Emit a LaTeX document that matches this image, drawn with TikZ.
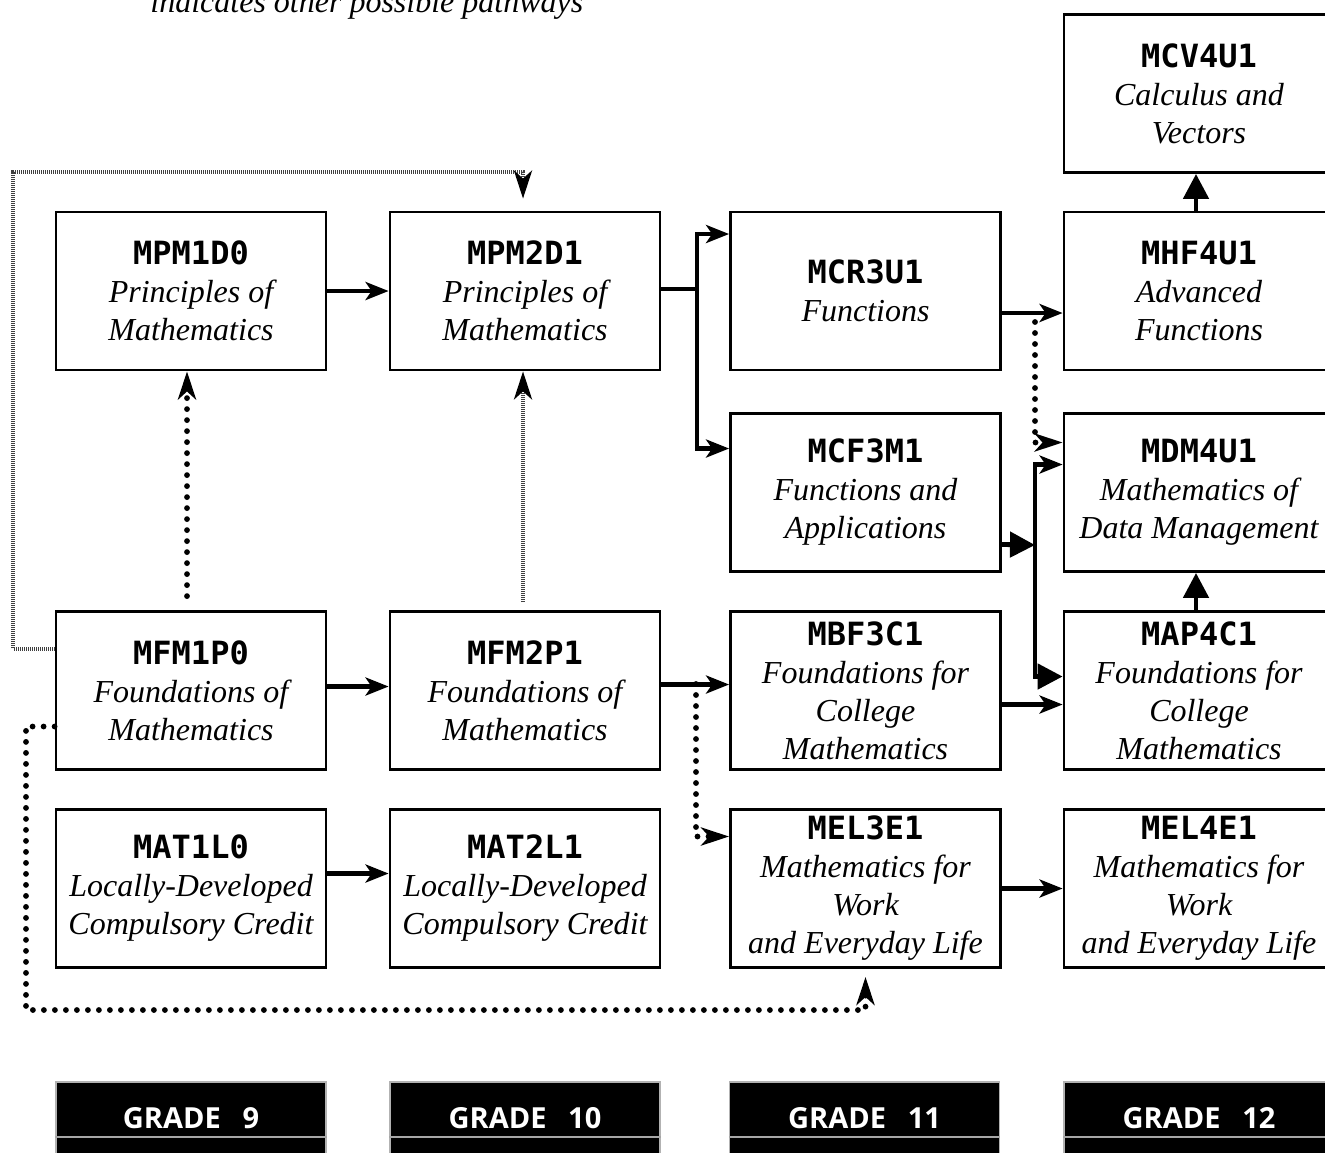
\documentclass[tikz,border=0pt]{standalone}
\usepackage{fontspec}
\setmainfont{Liberation Serif}
\newfontfamily\codefont{DejaVu Sans Mono}
\newfontfamily\gradefont{Open Sans}
\usetikzlibrary{arrows.meta}

\newcommand{\ccode}[1]{{\codefont\upshape\bfseries #1}}

\begin{document}
\begin{tikzpicture}[x=0.5pt, y=-0.5pt,
    course/.style={draw=black, rectangle, line width=1.4pt, minimum width=135pt, minimum height=79pt, inner sep=0pt, align=center, font=\fontsize{16}{19}\selectfont\itshape},
    gradebox/.style={draw=gray!60, fill=black, rectangle, line width=0.6pt, minimum width=135pt, minimum height=36pt, inner sep=0pt, text=white, font=\gradefont\bfseries\fontsize{14.5}{16}\selectfont},
    solidarrow/.style={line width=2.4pt, -{Stealth[length=11.5pt, width=9pt, inset=3pt]}},
    solidline/.style={line width=2.4pt},
    fillarrow/.style={line width=2.4pt, -{Triangle[length=12.5pt, width=12.5pt]}},
    bigdots/.style={line width=2.9pt, line cap=round, dash pattern=on 0pt off 5.5pt, -{Stealth[length=14pt, width=9pt, inset=4pt]}},
    finedots/.style={line width=2pt, draw=black!75, dash pattern=on 0.5pt off 0.5pt, -{Stealth[length=14pt, width=9pt, inset=4pt, color=black, fill=black]}}]
    \useasboundingbox (0,0) rectangle (1325,1152);

    %   Legend line, cut off at the top
    \node[anchor=base west, inner sep=0pt, font=\fontsize{16}{19}\selectfont\itshape] (legend) at (150,12) {indicates other possible pathways};

    %   Grade 9 column
    \node[course] (mpm1d0) at (191,291) {\ccode{MPM1D0}\\Principles of\\Mathematics};
    \node[course] (mfm1p0) at (191,690.5) {\ccode{MFM1P0}\\Foundations of\\Mathematics};
    \node[course] (mat1l0) at (191,888.5) {\ccode{MAT1L0}\\Locally-Developed\\Compulsory Credit};

    %   Grade 10 column
    \node[course] (mpm2d1) at (525,291) {\ccode{MPM2D1}\\Principles of\\Mathematics};
    \node[course] (mfm2p1) at (525,690.5) {\ccode{MFM2P1}\\Foundations of\\Mathematics};
    \node[course] (mat2l1) at (525,888.5) {\ccode{MAT2L1}\\Locally-Developed\\Compulsory Credit};

    %   Grade 11 column
    \node[course] (mcr3u1) at (865.5,291) {\ccode{MCR3U1}\\Functions};
    \node[course] (mcf3m1) at (865.5,492.5) {\ccode{MCF3M1}\\Functions and\\Applications};
    \node[course] (mbf3c1) at (865.5,690.5) {\ccode{MBF3C1}\\Foundations for\\College\\Mathematics};
    \node[course] (mel3e1) at (865.5,888.5) {\ccode{MEL3E1}\\Mathematics for\\Work\\and Everyday Life};

    %   Grade 12 column
    \node[course] (mcv4u1) at (1199,93.5) {\ccode{MCV4U1}\\Calculus and\\Vectors};
    \node[course] (mhf4u1) at (1199,291) {\ccode{MHF4U1}\\Advanced\\Functions};
    \node[course] (mdm4u1) at (1199,492.5) {\ccode{MDM4U1}\\Mathematics of\\Data Management};
    \node[course] (map4c1) at (1199,690.5) {\ccode{MAP4C1}\\Foundations for\\College\\Mathematics};
    \node[course] (mel4e1) at (1199,888.5) {\ccode{MEL4E1}\\Mathematics for\\Work\\and Everyday Life};

    %   Grade labels
    \node[gradebox] (grade9) at (191,1118) {GRADE\hspace{0.75em}9};
    \node[gradebox] (grade10) at (525,1118) {GRADE\hspace{0.75em}10};
    \node[gradebox] (grade11) at (864.5,1118) {GRADE\hspace{0.75em}11};
    \node[gradebox] (grade12) at (1199,1118) {GRADE\hspace{0.75em}12};
    \foreach \g in {grade9,grade10,grade11,grade12}
        \draw[gray!70, line width=0.6pt] ([yshift=-9.5pt]\g.west) -- ([yshift=-9.5pt]\g.east);

    %   Turning points
    \coordinate (fork1) at (697,289);
    \coordinate (fork2) at (1035,545);
    \coordinate (split1) at (696,684);
    \coordinate (split2) at (1035,322);
    \coordinate (loopL) at (13,172);
    \coordinate (loopB) at (26,1010);

    %   Main pathways
    \draw[solidarrow] (mpm1d0) -- (mpm2d1);
    \draw[solidarrow] ([yshift=2pt]mfm1p0.east) -- ([yshift=2pt]mfm2p1.west);
    \draw[solidarrow] ([yshift=7.5pt]mat1l0.east) -- ([yshift=7.5pt]mat2l1.west);
    \draw[solidline] (mpm2d1.east |- fork1) -- (fork1);
    \draw[solidarrow] (fork1) |- ([yshift=28.5pt]mcr3u1.west);
    \draw[solidarrow] (fork1) |- ([yshift=22pt]mcf3m1.west);
    \draw[solidarrow] ([yshift=3pt]mfm2p1.east) -- ([yshift=3pt]mbf3c1.west);
    \draw[solidarrow] ([yshift=-11pt]mcr3u1.east) -- ([yshift=-11pt]mhf4u1.west);
    \draw[fillarrow] ([yshift=-26pt]mcf3m1.east) -- (fork2);
    \draw[solidarrow] (fork2) |- ([yshift=14pt]mdm4u1.west);
    \draw[fillarrow] (fork2) |- ([yshift=7pt]map4c1.west);
    \draw[solidarrow] ([yshift=-7pt]mbf3c1.east) -- ([yshift=-7pt]map4c1.west);
    \draw[solidarrow] (mel3e1) -- (mel4e1);
    \draw[fillarrow] ([xshift=-1.5pt]mhf4u1.north) -- ([xshift=-1.5pt]mcv4u1.south);
    \draw[fillarrow] ([xshift=-1.5pt]map4c1.north) -- ([xshift=-1.5pt]mdm4u1.south);

    %   Other possible pathways
    \draw[bigdots] ([xshift=-2pt, yshift=7pt]mfm1p0.north) -- ([xshift=-2pt]mpm1d0.south);
    \draw[finedots] ([xshift=-1pt, yshift=4pt]mfm2p1.north) -- ([xshift=-1pt]mpm2d1.south);
    \draw[finedots, shorten >=6pt] ([yshift=21pt]mfm1p0.west) -| (loopL) -| ([xshift=-1pt]mpm2d1.north);
    \draw[bigdots] (split1) |- ([yshift=26pt]mel3e1.west);
    \draw[bigdots] (split2) |- ([yshift=25pt]mdm4u1.west);
    \draw[bigdots, shorten >=4pt] ([yshift=-18pt]mfm1p0.west) -| (loopB) -| (mel3e1.south);
\end{tikzpicture}
\end{document}
